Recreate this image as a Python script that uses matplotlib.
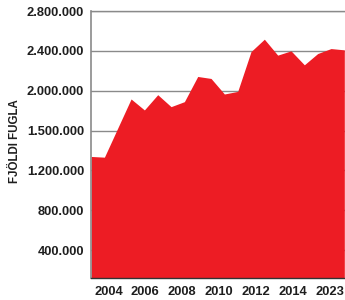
import numpy as np
import matplotlib
matplotlib.use("Agg")
import matplotlib.pyplot as plt

# yearly bird counts
values = [1340000, 1333000, 1625000, 1917000, 1807000, 1960000, 1840000,
          1890000, 2143000, 2123000, 1967000, 1993000, 2393000, 2517000,
          2357000, 2400000, 2260000, 2373000, 2423000, 2410000]
x_labels = ["2004", "2006", "2008", "2010", "2012", "2014", "2023"]
y_ticks = [400000, 800000, 1200000, 1600000, 2000000, 2400000, 2800000]
y_labels = ["400.000", "800.000", "1.200.000", "1.500.000",
            "2.000.000", "2.400.000", "2.800.000"]

plt.rcParams["font.family"] = ["Liberation Sans", "DejaVu Sans"]

fig = plt.figure(figsize=(3.45, 3.0), dpi=100)
ax = fig.add_axes([0.264, 0.0733, 0.736, 0.89])

x = np.arange(len(values))
ax.fill_between(x, values, 0, color="#ED1C24", linewidth=0, zorder=2)

ax.set_xlim(0, len(values) - 0.95)
ax.set_ylim(120000, 2800000)

ax.set_yticks(y_ticks)
ax.set_yticklabels(y_labels, fontsize=9.3, fontweight="bold", color="#1e1e1e")
ax.set_xticks(np.linspace(1.3, 17.9, len(x_labels)))
ax.set_xticklabels(x_labels, fontsize=9.3, fontweight="bold", color="#1e1e1e")
ax.tick_params(axis="both", length=0)
ax.tick_params(axis="y", pad=5)
ax.tick_params(axis="x", pad=6)

ax.grid(axis="y", color="#8a8a8a", linewidth=1.0, zorder=1)
ax.set_axisbelow(True)

ax.spines["right"].set_visible(False)
ax.spines["top"].set_color("#8a8a8a")
ax.spines["top"].set_linewidth(1.0)
ax.spines["left"].set_color("#8a8a8a")
ax.spines["left"].set_linewidth(1.2)
ax.spines["bottom"].set_color("#333333")
ax.spines["bottom"].set_linewidth(1.0)

fig.text(0.043, 0.53, "FJÖLDI FUGLA", rotation=90, fontsize=8.3,
         fontweight="bold", color="#1e1e1e", ha="center", va="center")

fig.savefig("out.png", dpi=100)
